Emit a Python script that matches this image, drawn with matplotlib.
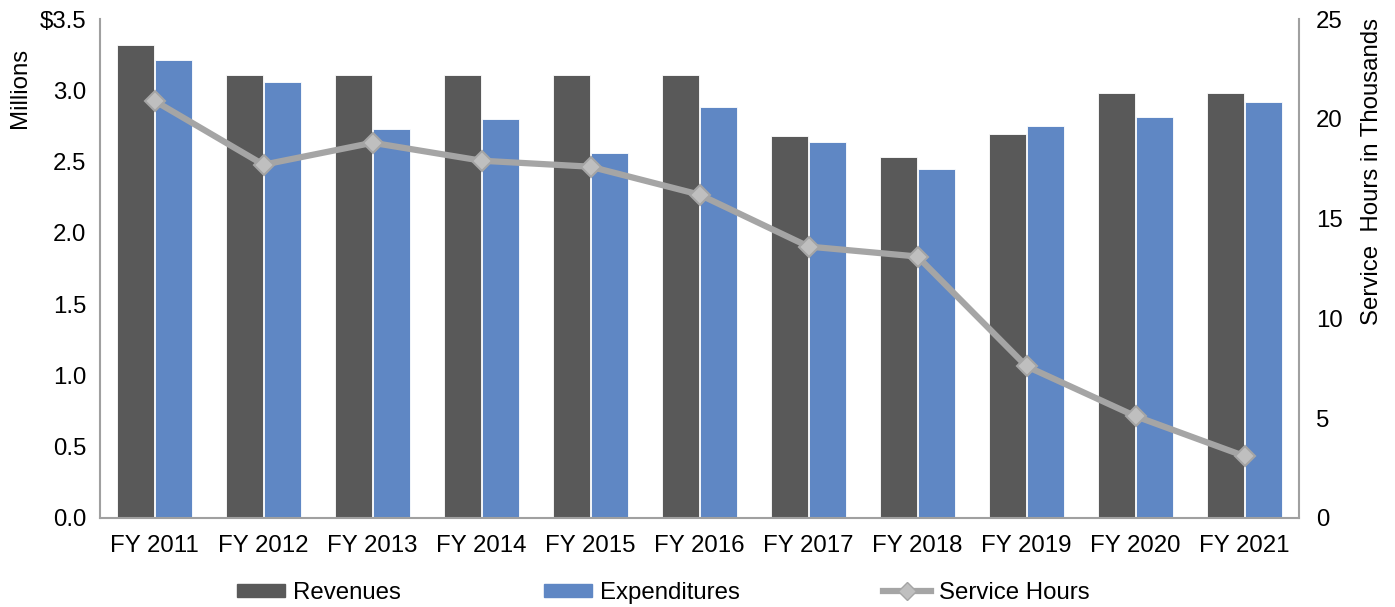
import matplotlib
matplotlib.use("Agg")
import matplotlib.pyplot as plt
import numpy as np
from matplotlib.lines import Line2D
from matplotlib.patches import Patch

categories = ["FY 2011", "FY 2012", "FY 2013", "FY 2014", "FY 2015", "FY 2016",
              "FY 2017", "FY 2018", "FY 2019", "FY 2020", "FY 2021"]
revenues = [3.32, 3.11, 3.11, 3.11, 3.11, 3.11, 2.68, 2.53, 2.69, 2.98, 2.98]
expenditures = [3.21, 3.06, 2.73, 2.80, 2.56, 2.88, 2.64, 2.45, 2.75, 2.81, 2.92]
service_hours = [20.9, 17.7, 18.8, 17.9, 17.6, 16.2, 13.6, 13.1, 7.6, 5.1, 3.1]
left_ticks = [0.0, 0.5, 1.0, 1.5, 2.0, 2.5, 3.0, 3.5]
left_labels = ["0.0", "0.5", "1.0", "1.5", "2.0", "2.5", "3.0", "$3.5"]
right_ticks = [0, 5, 10, 15, 20, 25]

plt.rcParams['font.family'] = ['Liberation Sans', 'DejaVu Sans']
FS = 17.3

fig = plt.figure(figsize=(13.95, 6.07), dpi=100)
ax = fig.add_axes([100/1395, 1-518/607, 1199/1395, 499/607])
ax2 = ax.twinx()

x = np.arange(len(categories))
w = 0.34
rev_c = "#595959"
exp_c = "#5F87C4"
line_c = "#A5A5A5"
ax.bar(x - w/2 - 0.005, revenues, w, color=rev_c, edgecolor="white", linewidth=0.6, zorder=2)
ax.bar(x + w/2 + 0.005, expenditures, w, color=exp_c, edgecolor="white", linewidth=0.6, zorder=2)
ax2.plot(x, service_hours, color=line_c, lw=4.5, marker="D", ms=10,
         markerfacecolor="#BFBFBF", markeredgecolor="#A5A5A5", markeredgewidth=1.5, zorder=3)

ax.set_xlim(-0.5, len(categories) - 0.5)
ax.set_ylim(0, 3.5)
ax2.set_ylim(0, 25)
ax.set_yticks(left_ticks)
ax.set_yticklabels(left_labels)
ax2.set_yticks(right_ticks)
ax.set_xticks(x)
ax.set_xticklabels(categories)

for a in (ax, ax2):
    a.tick_params(length=0, labelsize=FS, colors="black")
    for s in a.spines.values():
        s.set_visible(False)
ax.tick_params(axis='y', pad=10)
ax.tick_params(axis='x', pad=12)
ax2.tick_params(axis='y', pad=12)
for a, side in ((ax, 'left'), (ax2, 'right'), (ax, 'bottom')):
    a.spines[side].set_visible(True)
    a.spines[side].set_color("#A0A0A0")
    a.spines[side].set_linewidth(1.5)

fig.text(20/1395, 1-48/607, "Millions", rotation=90, ha="center", va="top", fontsize=FS)
fig.text(1372/1395, 1-18/607, "Service  Hours in Thousands", rotation=90, ha="center", va="top", fontsize=FS)

handles = [Patch(color=rev_c), Patch(color=exp_c),
           Line2D([0], [0], color=line_c, lw=4.5, marker="D", ms=9,
                  markerfacecolor="#BFBFBF", markeredgecolor="#A5A5A5")]
fig.legend(handles, ["Revenues", "Expenditures", "Service Hours"], loc="center",
           bbox_to_anchor=(663/1395, 1-593/607), ncol=3, frameon=False, fontsize=FS,
           columnspacing=5.95, handlelength=2.0, handleheight=0.5, handletextpad=0.33)

fig.savefig("out.png", dpi=100)
